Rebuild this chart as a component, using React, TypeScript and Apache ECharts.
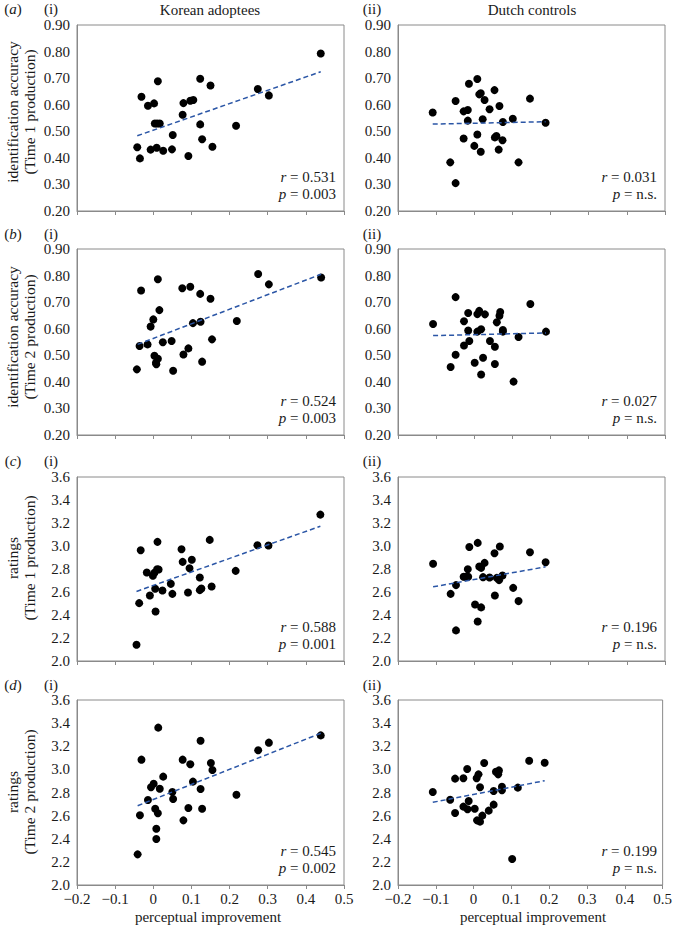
import React, { useEffect, useRef } from 'react';
import * as echarts from 'echarts';

const FONT = 'Liberation Serif, Times New Roman, serif';

// ---- data (perceptual improvement, score) ----
const koreanAccT1 = [
  [-0.042, 0.44], [-0.035, 0.398], [-0.031, 0.63], [-0.014, 0.596], [-0.007, 0.431],
  [0.002, 0.605], [0.004, 0.529], [0.009, 0.438], [0.012, 0.688], [0.01, 0.529],
  [0.017, 0.529], [0.026, 0.427], [0.049, 0.432], [0.051, 0.486], [0.077, 0.562],
  [0.079, 0.606], [0.092, 0.407], [0.097, 0.615], [0.105, 0.618], [0.123, 0.698],
  [0.123, 0.526], [0.128, 0.47], [0.15, 0.672], [0.155, 0.442], [0.217, 0.521],
  [0.274, 0.659], [0.303, 0.635], [0.439, 0.793],
];
const dutchAccT1 = [
  [-0.109, 0.571], [-0.063, 0.383], [-0.049, 0.614], [-0.049, 0.305], [-0.028, 0.575],
  [-0.028, 0.473], [-0.017, 0.58], [-0.017, 0.54], [-0.014, 0.679], [0.0, 0.445],
  [0.008, 0.697], [0.008, 0.488], [0.013, 0.639], [0.017, 0.643], [0.017, 0.423],
  [0.022, 0.545], [0.027, 0.618], [0.04, 0.583], [0.053, 0.655], [0.054, 0.477],
  [0.058, 0.482], [0.064, 0.431], [0.066, 0.595], [0.074, 0.466], [0.075, 0.535],
  [0.101, 0.547], [0.116, 0.383], [0.146, 0.623], [0.187, 0.532],
];
const koreanAccT2 = [
  [-0.043, 0.447], [-0.036, 0.535], [-0.032, 0.744], [-0.015, 0.541], [-0.007, 0.608],
  [0.0, 0.635], [0.003, 0.498], [0.007, 0.472], [0.008, 0.466], [0.012, 0.487],
  [0.012, 0.786], [0.016, 0.67], [0.025, 0.549], [0.048, 0.554], [0.052, 0.442],
  [0.076, 0.752], [0.079, 0.503], [0.092, 0.526], [0.097, 0.758], [0.104, 0.621],
  [0.123, 0.731], [0.124, 0.626], [0.128, 0.476], [0.15, 0.713], [0.154, 0.56],
  [0.219, 0.629], [0.275, 0.806], [0.303, 0.767], [0.44, 0.793],
];
const dutchAccT2 = [
  [-0.108, 0.618], [-0.062, 0.456], [-0.049, 0.719], [-0.049, 0.502], [-0.027, 0.628],
  [-0.027, 0.537], [-0.016, 0.659], [-0.016, 0.593], [-0.013, 0.554], [0.001, 0.472],
  [0.008, 0.655], [0.008, 0.589], [0.013, 0.667], [0.018, 0.598], [0.018, 0.428],
  [0.023, 0.491], [0.028, 0.654], [0.041, 0.554], [0.054, 0.532], [0.054, 0.467],
  [0.059, 0.624], [0.066, 0.649], [0.068, 0.663], [0.075, 0.595], [0.075, 0.589],
  [0.103, 0.401], [0.116, 0.569], [0.147, 0.693], [0.188, 0.589],
];
const koreanRateT1 = [
  [-0.044, 2.142], [-0.037, 2.503], [-0.033, 2.963], [-0.017, 2.77], [-0.009, 2.57],
  [-0.001, 2.741], [0.003, 2.767], [0.005, 2.628], [0.006, 2.431], [0.01, 2.798],
  [0.011, 3.036], [0.014, 2.796], [0.024, 2.613], [0.046, 2.671], [0.05, 2.584],
  [0.074, 2.972], [0.077, 2.862], [0.091, 2.596], [0.095, 2.807], [0.101, 2.88],
  [0.122, 2.726], [0.122, 2.616], [0.126, 2.631], [0.148, 3.053], [0.153, 2.648],
  [0.216, 2.784], [0.273, 3.007], [0.302, 3.004], [0.438, 3.273],
];
const dutchRateT1 = [
  [-0.108, 2.845], [-0.062, 2.584], [-0.048, 2.66], [-0.048, 2.266], [-0.028, 2.732],
  [-0.023, 2.732], [-0.017, 2.798], [-0.016, 2.732], [-0.013, 2.992], [0.002, 2.492],
  [0.009, 3.027], [0.009, 2.344], [0.013, 2.822], [0.018, 2.81], [0.018, 2.466],
  [0.023, 2.729], [0.027, 2.853], [0.04, 2.726], [0.053, 2.937], [0.054, 2.57],
  [0.059, 2.723], [0.065, 2.703], [0.067, 2.995], [0.074, 2.744], [0.102, 2.636],
  [0.116, 2.521], [0.146, 2.946], [0.187, 2.859],
];
const koreanRateT2 = [
  [-0.041, 2.265], [-0.035, 2.603], [-0.031, 3.084], [-0.014, 2.735], [-0.006, 2.845],
  [0.001, 2.876], [0.005, 2.66], [0.008, 2.398], [0.008, 2.487], [0.012, 2.62],
  [0.013, 3.361], [0.017, 2.833], [0.026, 2.937], [0.05, 2.804], [0.052, 2.744],
  [0.077, 3.084], [0.079, 2.559], [0.092, 2.666], [0.097, 3.044], [0.104, 2.894],
  [0.124, 3.248], [0.124, 2.83], [0.128, 2.66], [0.151, 3.055], [0.155, 2.995],
  [0.218, 2.781], [0.275, 3.165], [0.303, 3.231], [0.439, 3.294],
];
const dutchRateT2 = [
  [-0.108, 2.804], [-0.062, 2.738], [-0.049, 2.623], [-0.049, 2.92], [-0.027, 2.923],
  [-0.027, 2.678], [-0.017, 3.003], [-0.016, 2.655], [-0.013, 2.727], [0.003, 2.66],
  [0.008, 2.923], [0.009, 2.559], [0.013, 2.957], [0.017, 2.845], [0.017, 2.548],
  [0.023, 2.6], [0.028, 3.055], [0.04, 2.643], [0.053, 2.813], [0.053, 2.695],
  [0.059, 2.98], [0.065, 2.957], [0.067, 2.991], [0.075, 2.85], [0.075, 2.819],
  [0.102, 2.225], [0.117, 2.842], [0.147, 3.075], [0.188, 3.058],
];

// regression lines (endpoints)
const trendKoreanAccT1 = [[-0.042, 0.483], [0.439, 0.724]];
const trendDutchAccT1 = [[-0.109, 0.527], [0.187, 0.536]];
const trendKoreanAccT2 = [[-0.041, 0.541], [0.44, 0.805]];
const trendDutchAccT2 = [[-0.108, 0.574], [0.188, 0.584]];
const trendKoreanRateT1 = [[-0.044, 2.605], [0.438, 3.172]];
const trendDutchRateT1 = [[-0.108, 2.645], [0.187, 2.819]];
const trendKoreanRateT2 = [[-0.041, 2.686], [0.439, 3.312]];
const trendDutchRateT2 = [[-0.108, 2.715], [0.188, 2.902]];

const rValues = ['0.531', '0.031', '0.524', '0.027', '0.588', '0.196', '0.545', '0.199'];
const pValues = ['0.003', 'n.s.', '0.003', 'n.s.', '0.001', 'n.s.', '0.002', 'n.s.'];

const rowLetters = ['a', 'b', 'c', 'd'];
const colTitles = ['Korean adoptees', 'Dutch controls'];
const yTitles = [
  ['identification accuracy', '(Time 1 production)'],
  ['identification accuracy', '(Time 2 production)'],
  ['ratings', '(Time 1 production)'],
  ['ratings', '(Time 2 production)'],
];
const xTitle = 'perceptual improvement';

const xMin = -0.2, xMax = 0.5, xStep = 0.1;
const accMin = 0.2, accMax = 0.9, accStep = 0.1;
const rateMin = 2.0, rateMax = 3.6, rateStep = 0.2;

const scatterSets = [
  koreanAccT1, dutchAccT1, koreanAccT2, dutchAccT2,
  koreanRateT1, dutchRateT1, koreanRateT2, dutchRateT2,
];
const trendSets = [
  trendKoreanAccT1, trendDutchAccT1, trendKoreanAccT2, trendDutchAccT2,
  trendKoreanRateT1, trendDutchRateT1, trendKoreanRateT2, trendDutchRateT2,
];

// layout
const rows = [
  { top: 25, height: 186 },
  { top: 249, height: 186 },
  { top: 477, height: 184 },
  { top: 700, height: 185 },
];
const cols = [
  { left: 77, width: 267 },
  { left: 398, width: 267 },
];
const rowLabelY = [9, 234, 461, 685];
const yTitleCenter = [112, 337, 558, 792];

const AXIS_COLOR = '#8a8a8a';
const TEXT_COLOR = '#1a1a1a';
const TREND_COLOR = '#2b56a6';

function fmtX(v: number) {
  if (Math.abs(v) < 1e-9) return '0';
  const s = Math.abs(v).toFixed(1);
  return v < 0 ? '\u2212' + s : s;
}

function buildOption() {
  const grid: any[] = [];
  const xAxis: any[] = [];
  const yAxis: any[] = [];
  const series: any[] = [];
  const graphic: any[] = [];

  for (let r = 0; r < 4; r++) {
    for (let c = 0; c < 2; c++) {
      const idx = r * 2 + c;
      const g = { left: cols[c].left, width: cols[c].width, top: rows[r].top, height: rows[r].height };
      grid.push({ ...g, show: true, borderColor: AXIS_COLOR, borderWidth: 1, backgroundColor: 'transparent' });
      const isRate = r >= 2;
      xAxis.push({
        gridIndex: idx,
        type: 'value',
        min: xMin,
        max: xMax,
        interval: xStep,
        axisLine: { show: true, onZero: false, lineStyle: { color: AXIS_COLOR, width: 1 } },
        axisTick: { show: true, length: 4, lineStyle: { color: AXIS_COLOR } },
        splitLine: { show: false },
        axisLabel: {
          show: r === 3,
          formatter: fmtX,
          color: TEXT_COLOR,
          fontFamily: FONT,
          fontSize: 15,
          margin: 6,
        },
      });
      yAxis.push({
        gridIndex: idx,
        type: 'value',
        min: isRate ? rateMin : accMin,
        max: isRate ? rateMax : accMax,
        interval: isRate ? rateStep : accStep,
        axisLine: { show: true, onZero: false, lineStyle: { color: AXIS_COLOR, width: 1 } },
        axisTick: { show: false },
        splitLine: { show: false },
        axisLabel: {
          formatter: (v: number) => v.toFixed(isRate ? 1 : 2),
          color: TEXT_COLOR,
          fontFamily: FONT,
          fontSize: 15,
          margin: 7,
        },
      });
      series.push({
        type: 'line',
        xAxisIndex: idx,
        yAxisIndex: idx,
        data: trendSets[idx],
        symbol: 'none',
        lineStyle: { color: TREND_COLOR, width: 1.5, type: [5, 3] },
        z: 3,
        silent: true,
      });
      series.push({
        type: 'scatter',
        xAxisIndex: idx,
        yAxisIndex: idx,
        data: scatterSets[idx],
        symbol: 'circle',
        symbolSize: 8,
        itemStyle: { color: '#000', opacity: 1 },
        z: 2,
      });

      const right = cols[c].left + cols[c].width - 8;
      const bottom = rows[r].top + rows[r].height;
      const richI = { i: { fontStyle: 'italic', fontFamily: FONT, fontSize: 15, fill: TEXT_COLOR } };
      graphic.push({
        type: 'text',
        x: right,
        y: bottom - 34,
        style: {
          text: '{i|r} = ' + rValues[idx],
          align: 'right',
          verticalAlign: 'middle',
          fill: TEXT_COLOR,
          fontFamily: FONT,
          fontSize: 15,
          rich: richI,
        },
      });
      graphic.push({
        type: 'text',
        x: right,
        y: bottom - 17,
        style: {
          text: '{i|p} = ' + pValues[idx],
          align: 'right',
          verticalAlign: 'middle',
          fill: TEXT_COLOR,
          fontFamily: FONT,
          fontSize: 15,
          rich: richI,
        },
      });

      // (i) / (ii)
      graphic.push({
        type: 'text',
        x: c === 0 ? 51 : 372,
        y: rowLabelY[r],
        style: {
          text: c === 0 ? '(i)' : '(ii)',
          align: 'center',
          verticalAlign: 'middle',
          fill: TEXT_COLOR,
          fontFamily: FONT,
          fontSize: 15,
        },
      });
    }
    // row label (a)...
    graphic.push({
      type: 'text',
      x: 13,
      y: rowLabelY[r],
      style: {
        text: '({i|' + rowLetters[r] + '})',
        align: 'center',
        verticalAlign: 'middle',
        fill: TEXT_COLOR,
        fontFamily: FONT,
        fontSize: 15,
        rich: { i: { fontStyle: 'italic', fontFamily: FONT, fontSize: 15, fill: TEXT_COLOR } },
      },
    });
    // y titles
    yTitles[r].forEach((t, k) => {
      graphic.push({
        type: 'text',
        x: k === 0 ? 12 : 29,
        y: yTitleCenter[r],
        rotation: Math.PI / 2,
        style: {
          text: t,
          align: 'center',
          verticalAlign: 'middle',
          fill: TEXT_COLOR,
          fontFamily: FONT,
          fontSize: 15.5,
        },
      });
    });
  }

  // column titles and x titles
  colTitles.forEach((t, c) => {
    graphic.push({
      type: 'text',
      x: c === 0 ? 210 : 532,
      y: 10,
      style: { text: t, align: 'center', verticalAlign: 'middle', fill: TEXT_COLOR, fontFamily: FONT, fontSize: 15 },
    });
    graphic.push({
      type: 'text',
      x: c === 0 ? 208 : 533,
      y: 917,
      style: { text: xTitle, align: 'center', verticalAlign: 'middle', fill: TEXT_COLOR, fontFamily: FONT, fontSize: 15 },
    });
  });

  return {
    animation: false,
    backgroundColor: '#fff',
    grid,
    xAxis,
    yAxis,
    series,
    graphic,
  };
}

export default function App() {
  const ref = useRef<HTMLDivElement>(null);
  useEffect(() => {
    const chart = echarts.init(ref.current!, null, { renderer: 'svg' });
    chart.setOption(buildOption());
    return () => chart.dispose();
  }, []);
  return (
    <div
      ref={ref}
      style={{ position: 'fixed', left: 0, top: 0, width: 675, height: 925, background: '#fff' }}
    />
  );
}
